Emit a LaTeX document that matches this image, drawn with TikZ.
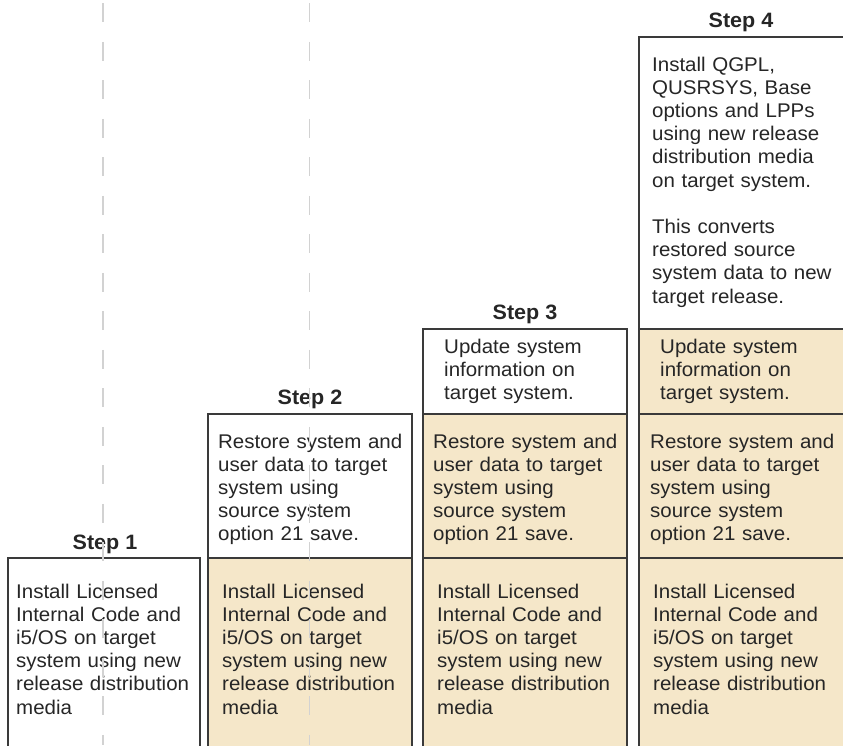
\documentclass[tikz,border=0pt]{standalone}
\usepackage{fontspec}
\setmainfont{Liberation Sans}[FakeStretch=1.035]
\definecolor{boxfill}{HTML}{F5E7C9}
\definecolor{boxline}{HTML}{3A3A3A}
\definecolor{txt}{HTML}{262626}
\definecolor{guide}{HTML}{D2D2D2}
\begin{document}
\begin{tikzpicture}[x=1pt,y=-1pt,
  panel/.style={draw=boxline,line width=1.5pt},
  done/.style={panel,fill=boxfill},
  todo/.style={panel,fill=white},
  body/.style={anchor=base west,inner sep=0pt,text width=200pt,align=left,
    text=txt,font=\fontsize{19.8}{23.2}\selectfont},
  steplabel/.style={anchor=base,inner sep=0pt,text=txt,
    font=\bfseries\fontsize{20.8}{24}\selectfont},
  guideline/.style={draw=guide,line width=1.3pt,dash pattern=on 19pt off 19.5pt}]
\useasboundingbox (0,0) rectangle (843,745);
\begin{scope}
\clip (0,0) rectangle (843,745);
% Step 1
\draw[todo] (8,558) rectangle (200,760);
% Step 2
\draw[done] (208,558) rectangle (412,760);
\draw[todo] (208,414) rectangle (412,558);
% Step 3
\draw[done] (423,558) rectangle (627,760);
\draw[done] (423,414) rectangle (627,558);
\draw[todo] (423,329) rectangle (627,414);
% Step 4
\draw[done] (639,558) rectangle (860,760);
\draw[done] (639,414) rectangle (860,558);
\draw[done] (639,329) rectangle (860,414);
\draw[todo] (639,37) rectangle (860,329);
\end{scope}
% labels
\node[steplabel] (s1) at (105,549) {Step 1};
\node[steplabel] (s2) at (310,404) {Step 2};
\node[steplabel] (s3) at (525,319) {Step 3};
\node[steplabel] (s4) at (741,27) {Step 4};
% texts
\node[body] (t1a) at (16,598) {Install Licensed\\Internal Code and\\i5/OS on target\\system using new\\release distribution\\media};
\node[body] (t2a) at (222,598) {Install Licensed\\Internal Code and\\i5/OS on target\\system using new\\release distribution\\media};
\node[body] (t3a) at (437,598) {Install Licensed\\Internal Code and\\i5/OS on target\\system using new\\release distribution\\media};
\node[body] (t4a) at (653,598) {Install Licensed\\Internal Code and\\i5/OS on target\\system using new\\release distribution\\media};
\node[body] (t2b) at (218,448) {Restore system and\\user data to target\\system using\\source system\\option 21 save.};
\node[body] (t3b) at (433,448) {Restore system and\\user data to target\\system using\\source system\\option 21 save.};
\node[body] (t4b) at (650,448) {Restore system and\\user data to target\\system using\\source system\\option 21 save.};
\node[body] (t3c) at (444,353) {Update system\\information on\\target system.};
\node[body] (t4c) at (660,353) {Update system\\information on\\target system.};
\node[body] (t4d) at (652,71) {Install QGPL,\\QUSRSYS, Base\\options and LPPs\\using new release\\distribution media\\on target system.\\[23.2pt]This converts\\restored source\\system data to new\\target release.};
% guide lines
\coordinate (g1a) at (103,3.3);
\coordinate (g1b) at (103,745);
\coordinate (g2a) at (309.5,3.3);
\coordinate (g2b) at (309.5,745);
\draw[guideline] (g1a) -- (g1b);
\draw[guideline] (g2a) -- (g2b);
\end{tikzpicture}
\end{document}
